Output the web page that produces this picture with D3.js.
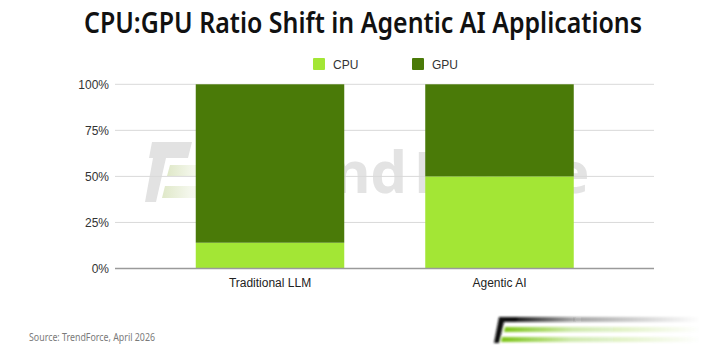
<!DOCTYPE html>
<html>
<head>
<meta charset="utf-8">
<script src="https://cdn.jsdelivr.net/npm/d3@7"></script>
<style>
  html, body { margin: 0; padding: 0; background: #fff; }
  svg { display: block; }
</style>
</head>
<body>
<svg id="chart" width="719" height="349"></svg>
<script>
// Share of compute by processor type, per application class (percent)
const categories = ["Traditional LLM", "Agentic AI"];
const seriesNames = ["CPU", "GPU"];
const cpuShare = [14, 50];
const gpuShare = [86, 50];
const yTicks = [0, 25, 50, 75, 100];
const titleText = "CPU:GPU Ratio Shift in Agentic AI Applications";
const sourceText = "Source: TrendForce, April 2026";

const colors = { CPU: "#a3e635", GPU: "#4a7a08" };

const svg = d3.select("#chart");

const defs = svg.append("defs");
function fadeGrad(id, c0) {
  const g = defs.append("linearGradient").attr("id", id)
    .attr("x1", "0%").attr("x2", "100%").attr("y1", "0%").attr("y2", "0%");
  g.append("stop").attr("offset", "0%").attr("stop-color", c0).attr("stop-opacity", 1);
  g.append("stop").attr("offset", "35%").attr("stop-color", c0).attr("stop-opacity", 0.35);
  g.append("stop").attr("offset", "100%").attr("stop-color", c0).attr("stop-opacity", 0);
}
fadeGrad("fadeDark", "#111111");
fadeGrad("fadeGreen", "#7cc418");
fadeGrad("wmGreen", "#dfe8c8");
defs.append("filter").attr("id", "soft")
  .append("feGaussianBlur").attr("stdDeviation", 0.8);

// Title
svg.append("text")
  .attr("x", 84).attr("y", 33)
  .attr("textLength", 558).attr("lengthAdjust", "spacingAndGlyphs")
  .style("font-family", "'Noto Sans', sans-serif")
  .style("font-weight", 600)
  .style("font-size", "28px")
  .attr("fill", "#111")
  .text(titleText);

// Scales
const y = d3.scaleLinear().domain([0, 100]).range([268.5, 84.3]);
const p = 81 / 229.5;
const x = d3.scaleBand().domain(categories)
  .range([155.25, 614.25]).paddingInner(p).paddingOuter(p / 2);
const gridX0 = 115, gridX1 = 654;

// Faint brand watermark behind the plot
const wm = svg.append("g").attr("class", "watermark");
wm.append("path")
  .attr("d", "M152,142 L192,142 L188,158 L166,158 L156,202 L145,202 L153,158 L149,158 Z")
  .attr("fill", "#e2e2e2");
wm.append("path").attr("d", "M170,165 L240,165 L238,176 L167,176 Z").attr("fill", "url(#wmGreen)");
wm.append("path").attr("d", "M165,186 L240,186 L238,198 L162,198 Z").attr("fill", "url(#wmGreen)");
const wmFont = (sel) => sel
  .style("font-family", "'Noto Sans', sans-serif")
  .style("font-weight", 700)
  .style("font-size", "58px")
  .attr("fill", "#e3e3e3");
wm.append("text")
  .attr("x", 407).attr("y", 193)
  .attr("text-anchor", "end")
  .call(wmFont)
  .text("rend");
wm.append("text")
  .attr("x", 413).attr("y", 193)
  .attr("textLength", 177).attr("lengthAdjust", "spacingAndGlyphs")
  .call(wmFont)
  .text("Force");

// Gridlines
svg.append("g").selectAll("line").data(yTicks.filter(d => d > 0)).join("line")
  .attr("x1", gridX0).attr("x2", gridX1)
  .attr("y1", d => y(d)).attr("y2", d => y(d))
  .attr("stroke", "#d9d9d9").attr("stroke-width", 1);

// Stacked bars
const rows = categories.map((c, i) => ({ category: c, CPU: cpuShare[i], GPU: gpuShare[i] }));
const stacked = d3.stack().keys(seriesNames)(rows);
svg.append("g").selectAll("g").data(stacked).join("g")
  .attr("fill", s => colors[s.key])
  .selectAll("rect").data(s => s).join("rect")
  .attr("x", d => x(d.data.category))
  .attr("width", x.bandwidth())
  .attr("y", d => y(d[1]))
  .attr("height", d => y(d[0]) - y(d[1]));

// Baseline
svg.append("line")
  .attr("x1", gridX0).attr("x2", gridX1)
  .attr("y1", y(0)).attr("y2", y(0))
  .attr("stroke", "#9a9a9a").attr("stroke-width", 1.5);

// Y axis labels
const yAxis = svg.append("g").attr("transform", `translate(${gridX0 - 6},0)`)
  .call(d3.axisLeft(y).tickValues(yTicks).tickFormat(d => d + "%").tickSize(0).tickPadding(0));
yAxis.select(".domain").remove();
yAxis.selectAll("text")
  .style("font-family", "'Liberation Sans', Arial, sans-serif")
  .style("font-size", "12px")
  .attr("fill", "#333");

// X axis labels
const xAxis = svg.append("g").attr("transform", `translate(0,${y(0)})`)
  .call(d3.axisBottom(x).tickSize(0).tickPadding(10));
xAxis.select(".domain").remove();
xAxis.selectAll("text")
  .style("font-family", "'Liberation Sans', Arial, sans-serif")
  .style("font-size", "12px")
  .attr("fill", "#222");

// Legend
const legendX = [313, 412];
const legend = svg.append("g").selectAll("g").data(seriesNames).join("g")
  .attr("transform", (d, i) => `translate(${legendX[i]},58)`);
legend.append("rect").attr("width", 12).attr("height", 12).attr("rx", 1)
  .attr("fill", d => colors[d]);
legend.append("text").attr("x", 20).attr("y", 10.5)
  .style("font-family", "'Liberation Sans', Arial, sans-serif")
  .style("font-size", "12px")
  .attr("fill", "#333")
  .text(d => d);

// Source note
svg.append("text")
  .attr("x", 29).attr("y", 341)
  .attr("textLength", 126).attr("lengthAdjust", "spacingAndGlyphs")
  .style("font-family", "'Noto Sans', sans-serif")
  .style("font-size", "10px")
  .attr("fill", "#7a7a7a")
  .text(sourceText);

// Brand mark, bottom right
const logo = svg.append("g").attr("filter", "url(#soft)");
logo.append("rect").attr("x", 510).attr("y", 317).attr("width", 190).attr("height", 5).attr("fill", "url(#fadeDark)");
logo.append("path").attr("d", "M499,317 L518,317 L516,322 L504,322 L499,343 L494,343 Z").attr("fill", "#111");
logo.append("path").attr("d", "M505,327 L700,327 L700,332 L504,332 Z").attr("fill", "url(#fadeGreen)");
logo.append("path").attr("d", "M502,337 L700,337 L700,342 L501,342 Z").attr("fill", "url(#fadeGreen)");
</script>
</body>
</html>
